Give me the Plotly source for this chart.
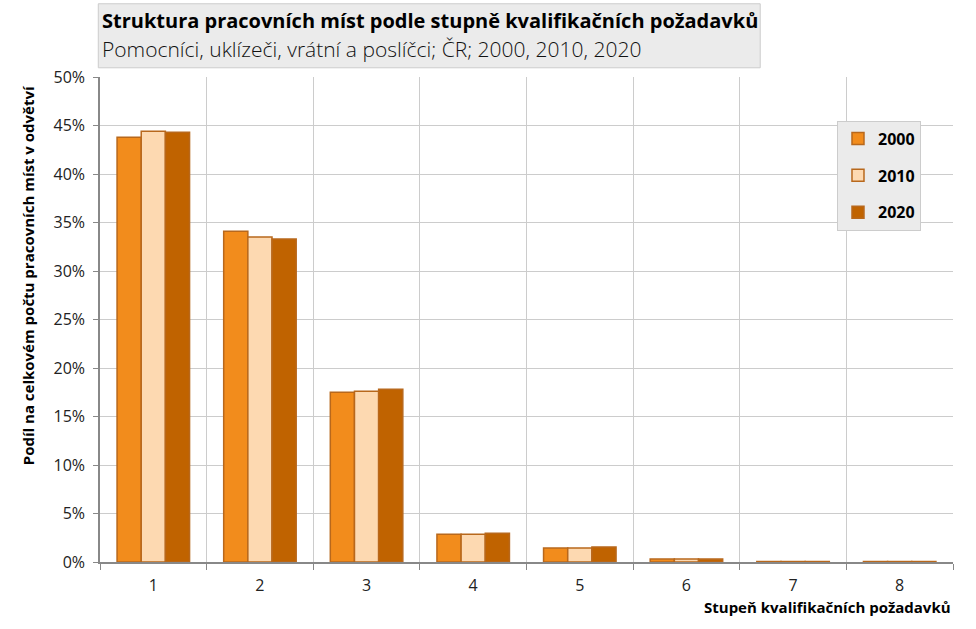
import plotly.graph_objects as go

categories = [1, 2, 3, 4, 5, 6, 7, 8]
series_names = ["2000", "2010", "2020"]
v2000 = [43.8, 34.1, 17.5, 2.86, 1.44, 0.30, 0.05, 0.05]
v2010 = [44.4, 33.5, 17.6, 2.86, 1.44, 0.30, 0.05, 0.05]
v2020 = [44.3, 33.3, 17.8, 2.96, 1.55, 0.30, 0.05, 0.05]
colors = ["#f28c1c", "#fdd9b1", "#c06300"]
y_ticks = [0, 5, 10, 15, 20, 25, 30, 35, 40, 45, 50]

FONT = "Open Sans"
fig = go.Figure()
for i, (name, vals) in enumerate(zip(series_names, [v2000, v2010, v2020])):
    fig.add_trace(go.Bar(
        x=categories, y=vals, name=name,
        marker=dict(color=colors[i], line=dict(color="#b8681c", width=1.5)),
        legendgroup=name,
    ))

fig.update_layout(
    width=976, height=629,
    margin=dict(l=100, r=23, t=77, b=67),
    paper_bgcolor="white", plot_bgcolor="white",
    barmode="group", bargap=0.32, bargroupgap=0,
    font=dict(family=FONT, size=15, color="#333333"),
    showlegend=True,
    legend=dict(
        x=0.864, y=0.91, xanchor="left", yanchor="top",
        bgcolor="#ebebeb", bordercolor="#cccccc", borderwidth=1,
        font=dict(family=FONT, size=16, color="black", weight="bold"),
        tracegroupgap=13, traceorder="grouped",
        itemwidth=30,
    ),
    xaxis=dict(
        range=[0.5, 8.5], tickmode="array", tickvals=categories,
        ticktext=[str(c) for c in categories],
        showgrid=False, ticks="", showline=True, linecolor="#888888", linewidth=1.5,
        tickfont=dict(family=FONT, size=16, color="#222222"),
        ticklabelstandoff=8,
        minor=dict(tickmode="array", tickvals=[c + 0.5 for c in [0] + categories],
                   showgrid=True, gridcolor="#cccccc", gridwidth=1,
                   ticks="outside", ticklen=6, tickcolor="#888888"),
        zeroline=False,
    ),
    yaxis=dict(
        range=[0, 50], tickmode="array", tickvals=y_ticks,
        ticktext=[f"{t}%" for t in y_ticks],
        showgrid=True, gridcolor="#cccccc", gridwidth=1,
        ticks="outside", ticklen=5, tickcolor="#888888",
        showline=True, linecolor="#888888", linewidth=1.5,
        zeroline=False, ticklabelstandoff=5,
        tickfont=dict(family=FONT, size=16, color="#222222"),
    ),
    shapes=[dict(type="rect", xref="paper", yref="paper",
                 x0=-0.002, x1=0.774, y0=1.019, y1=1.151,
                 fillcolor="#ebebeb", line=dict(color="#cccccc", width=1), layer="below")],
    annotations=[
        dict(text="<b>Struktura pracovních míst podle stupně kvalifikačních požadavků</b>",
             xref="paper", yref="paper", x=0.0, y=1.149, xanchor="left", yanchor="top",
             showarrow=False, font=dict(family=FONT, size=20, color="black")),
        dict(text="Pomocníci, uklízeči, vrátní a poslíčci; ČR; 2000, 2010, 2020",
             xref="paper", yref="paper", x=0.0, y=1.09, xanchor="left", yanchor="top",
             showarrow=False, font=dict(family=FONT, size=21, color="#111111", weight=300)),
        dict(text="<b>Podíl na celkovém počtu pracovních míst v odvětví</b>",
             xref="paper", yref="paper", x=-0.084, y=0.592, xanchor="center", yanchor="middle",
             textangle=-90, showarrow=False, font=dict(family=FONT, size=15, color="black")),
        dict(text="<b>Stupeň kvalifikačních požadavků</b>",
             xref="paper", yref="paper", x=1.0, y=-0.093, xanchor="right", yanchor="middle",
             showarrow=False, font=dict(family=FONT, size=15, color="black")),
    ],
)

fig.write_html("out.html")
